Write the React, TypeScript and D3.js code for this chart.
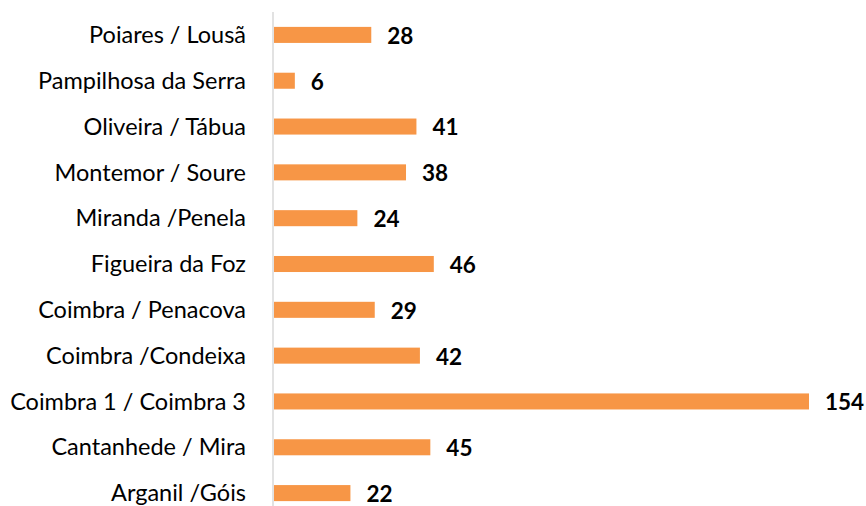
import * as d3 from 'd3';
import React, { useEffect, useRef } from 'react';

const categories = [
  'Poiares / Lousã',
  'Pampilhosa da Serra',
  'Oliveira / Tábua',
  'Montemor / Soure',
  'Miranda /Penela',
  'Figueira da Foz',
  'Coimbra / Penacova',
  'Coimbra /Condeixa',
  'Coimbra 1 / Coimbra 3',
  'Cantanhede / Mira',
  'Arganil /Góis',
];
const values = [28, 6, 41, 38, 24, 46, 29, 42, 154, 45, 22];

const W = 866;
const H = 506;

const App = () => {
  const ref = useRef<SVGSVGElement>(null);

  useEffect(() => {
    const svg = d3.select(ref.current);
    svg.selectAll('*').remove();

    const axisX = 273;
    const x = d3.scaleLinear().domain([0, 154]).range([274, 809]);
    const y = d3
      .scaleBand<string>()
      .domain(categories)
      .range([12, 516])
      .paddingInner(0.65)
      .paddingOuter(0.325);

    svg
      .append('line')
      .attr('x1', axisX)
      .attr('x2', axisX)
      .attr('y1', 12)
      .attr('y2', 516)
      .attr('stroke', '#d9d9d9')
      .attr('stroke-width', 1.5);

    svg
      .selectAll('rect.bar')
      .data(values)
      .join('rect')
      .attr('class', 'bar')
      .attr('x', x(0))
      .attr('y', (d, i) => y(categories[i])!)
      .attr('width', d => x(d) - x(0))
      .attr('height', y.bandwidth())
      .attr('fill', '#f79646');

    svg
      .selectAll('text.cat')
      .data(categories)
      .join('text')
      .attr('class', 'cat')
      .attr('x', 246)
      .attr('y', d => y(d)! + y.bandwidth() / 2)
      .attr('dy', '0.35em')
      .attr('text-anchor', 'end')
      .attr('font-family', 'Lato, "Open Sans", sans-serif')
      .attr('font-size', 23.5)
      .attr('fill', '#000')
      .text(d => d);

    svg
      .selectAll('text.val')
      .data(values)
      .join('text')
      .attr('class', 'val')
      .attr('x', d => x(d) + 16)
      .attr('y', (d, i) => y(categories[i])! + y.bandwidth() / 2 + 1)
      .attr('dy', '0.35em')
      .attr('font-family', 'Lato, "Open Sans", sans-serif')
      .attr('font-weight', 'bold')
      .attr('font-size', 22.5)
      .attr('fill', '#000')
      .text(d => d);
  }, []);

  return (
    <svg
      ref={ref}
      width={W}
      height={H}
      style={{ position: 'absolute', left: 0, top: 0, background: '#fff' }}
    />
  );
};

export default App;
